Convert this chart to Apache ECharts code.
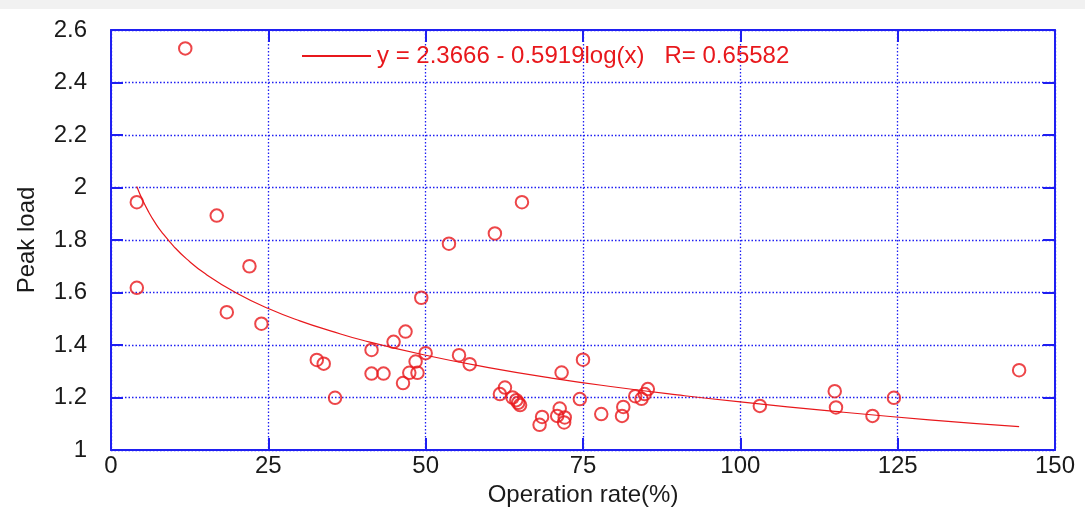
<!DOCTYPE html>
<html>
<head>
<meta charset="utf-8">
<script src="https://cdn.jsdelivr.net/npm/echarts@6/dist/echarts.min.js"></script>
<style>html,body{margin:0;padding:0;background:#fff;}#c{width:1085px;height:516px;}</style>
</head>
<body>
<div id="c"></div>
<script>
// Scatter observations: operation rate (%) and peak load
const rateX = [4.1, 4.1, 11.8, 16.8, 18.4, 22.0, 23.9, 32.7, 33.8, 35.6, 41.4, 41.4, 43.3, 44.9, 46.8, 46.4, 47.4, 48.7, 48.4, 49.3, 50.0, 53.7, 55.3, 57.0, 61.0, 65.3, 62.6, 61.8, 63.8, 64.4, 64.7, 65.0, 68.5, 68.1, 71.3, 70.9, 72.1, 72.0, 71.6, 75.0, 74.5, 77.9, 81.2, 81.4, 83.3, 84.3, 84.8, 85.3, 103.1, 115.0, 115.2, 121.0, 124.4, 144.3];
const loadY = [1.944, 1.618, 2.53, 1.893, 1.525, 1.70, 1.481, 1.343, 1.329, 1.199, 1.381, 1.291, 1.291, 1.412, 1.451, 1.255, 1.294, 1.294, 1.337, 1.580, 1.369, 1.786, 1.361, 1.327, 1.825, 1.944, 1.238, 1.213, 1.200, 1.190, 1.180, 1.171, 1.126, 1.096, 1.158, 1.130, 1.124, 1.105, 1.295, 1.344, 1.194, 1.137, 1.130, 1.164, 1.205, 1.195, 1.213, 1.232, 1.168, 1.224, 1.162, 1.130, 1.199, 1.304];
// Fitted curve points
const fitX = [4.1, 5, 6, 7, 8, 10, 12, 15, 20, 25, 30, 35, 40, 50, 60, 70, 80, 90, 100, 115, 130, 144.3];
const fitY = [2.004, 1.953, 1.906, 1.866, 1.832, 1.775, 1.728, 1.671, 1.597, 1.539, 1.492, 1.453, 1.418, 1.361, 1.314, 1.274, 1.240, 1.210, 1.183, 1.147, 1.115, 1.089];
const fitName = 'y = 2.3666 - 0.5919log(x)   R= 0.65582';
const xTicks = [0, 25, 50, 75, 100, 125, 150];
const yTicks = [1, 1.2, 1.4, 1.6, 1.8, 2, 2.2, 2.4, 2.6];

const BLUE = '#1f1ff2';
const RED = '#e8181c';
const FONT = 'Liberation Sans';

const chart = echarts.init(document.getElementById('c'), null, {renderer: 'canvas'});
const baseAxis = {
  axisLine: {show: true, onZero: false, lineStyle: {color: BLUE, width: 2}},
  axisTick: {show: true, inside: true, length: 12, lineStyle: {color: BLUE, width: 2}},
};
chart.setOption({
  animation: false,
  backgroundColor: '#fff',
  graphic: [{type: 'rect', shape: {x: 0, y: 0, width: 1085, height: 9}, style: {fill: '#f1f1f1'}, z: -1}],
  grid: {left: 111, right: 30, top: 30, bottom: 66},
  legend: {
    data: [{name: fitName, icon: 'rect'}], left: 297, top: 39, itemWidth: 69, itemHeight: 2, itemGap: 5,
    textStyle: {color: RED, fontSize: 24, fontFamily: FONT, padding: [0, 0, 0, 1]}
  },
  xAxis: [
    Object.assign({}, baseAxis, {
      type: 'value', min: 0, max: 150, interval: 25, position: 'bottom',
      name: 'Operation rate(%)', nameLocation: 'middle', nameGap: 24,
      nameTextStyle: {color: '#1a1a1a', fontSize: 24, fontFamily: FONT},
      axisLabel: {color: '#1a1a1a', fontSize: 24, fontFamily: FONT, margin: 4,
        formatter: v => xTicks.indexOf(v) >= 0 ? String(v) : ''},
      splitLine: {show: true, lineStyle: {color: BLUE, width: 1.3, type: [1.5, 2]}}
    }),
    Object.assign({}, baseAxis, {
      type: 'value', min: 0, max: 150, interval: 25, position: 'top',
      axisLabel: {show: false}, splitLine: {show: false}
    })
  ],
  yAxis: [
    Object.assign({}, baseAxis, {
      type: 'value', min: 1, max: 2.6, interval: 0.2, position: 'left',
      name: 'Peak load', nameLocation: 'middle', nameGap: 72,
      nameTextStyle: {color: '#1a1a1a', fontSize: 24, fontFamily: FONT},
      axisLabel: {color: '#1a1a1a', fontSize: 24, fontFamily: FONT, margin: 24,
        formatter: v => {
          const t = yTicks.find(k => Math.abs(k - v) < 1e-6);
          return t === undefined ? '' : String(t);
        }},
      splitLine: {show: true, lineStyle: {color: BLUE, width: 1.3, type: [1.5, 2]}}
    }),
    Object.assign({}, baseAxis, {
      type: 'value', min: 1, max: 2.6, interval: 0.2, position: 'right',
      axisLabel: {show: false}, splitLine: {show: false}
    })
  ],
  series: [
    {
      name: fitName, type: 'line', xAxisIndex: 0, yAxisIndex: 0,
      data: fitX.map((x, i) => [x, fitY[i]]),
      smooth: true, symbol: 'none',
      lineStyle: {color: RED, width: 1.2}, itemStyle: {color: RED}, z: 3
    },
    {
      name: 'data', type: 'scatter', xAxisIndex: 0, yAxisIndex: 0,
      data: rateX.map((x, i) => [x, loadY[i]]),
      symbol: 'circle', symbolSize: 12.5,
      itemStyle: {color: 'rgba(255,255,255,0)', borderColor: RED, borderWidth: 2}, z: 4
    }
  ]
});
</script>
</body>
</html>
